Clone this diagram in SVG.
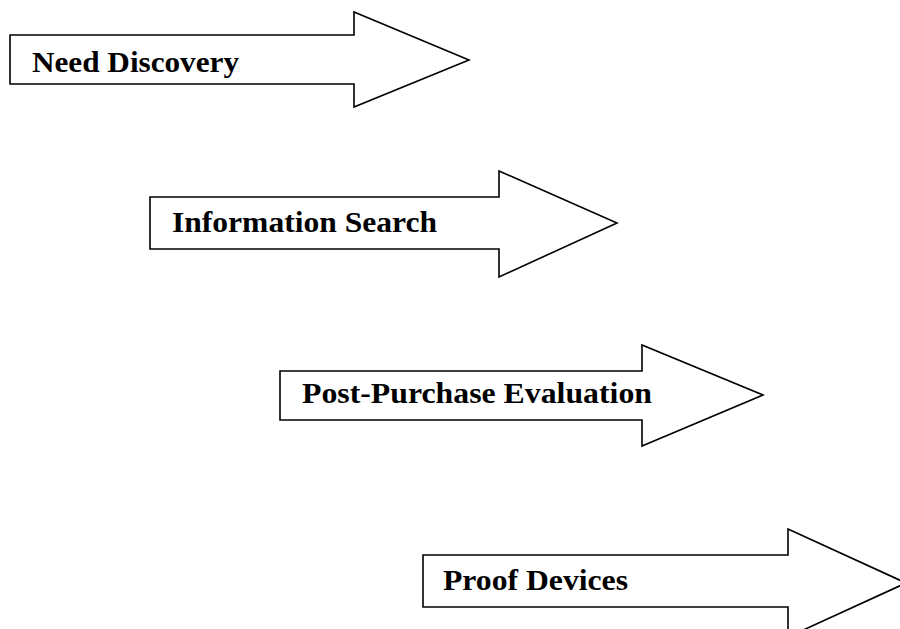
<svg xmlns="http://www.w3.org/2000/svg" width="900" height="629" viewBox="0 0 900 629">
  <style>
    .arrow { fill: #ffffff; stroke: #000000; stroke-width: 1.6; stroke-linejoin: miter; }
    .label { font-family: "Liberation Serif", "Times New Roman", serif; font-weight: bold; font-size: 30px; fill: #000000; }
  </style>
  <rect width="900" height="629" fill="#ffffff"/>
  <g id="connectors"></g>
  <g id="need-discovery">
    <polygon class="arrow" points="10,35 354,35 354,12 469,60 354,107 354,84 10,84"/>
    <text class="label" x="32" y="72" textLength="207" lengthAdjust="spacingAndGlyphs">Need Discovery</text>
  </g>
  <g id="information-search">
    <polygon class="arrow" points="150,197 499,197 499,171 617,223 499,277 499,249 150,249"/>
    <text class="label" x="172" y="232" textLength="265" lengthAdjust="spacingAndGlyphs">Information Search</text>
  </g>
  <g id="post-purchase-evaluation">
    <polygon class="arrow" points="280,371 642,371 642,345 763,395 642,446 642,420 280,420"/>
    <text class="label" x="302" y="403" textLength="350" lengthAdjust="spacingAndGlyphs">Post-Purchase Evaluation</text>
  </g>
  <g id="proof-devices">
    <polygon class="arrow" points="423,555 788,555 788,529 906,583 788,637 788,607 423,607"/>
    <text class="label" x="443" y="590" textLength="185" lengthAdjust="spacingAndGlyphs">Proof Devices</text>
  </g>
</svg>
